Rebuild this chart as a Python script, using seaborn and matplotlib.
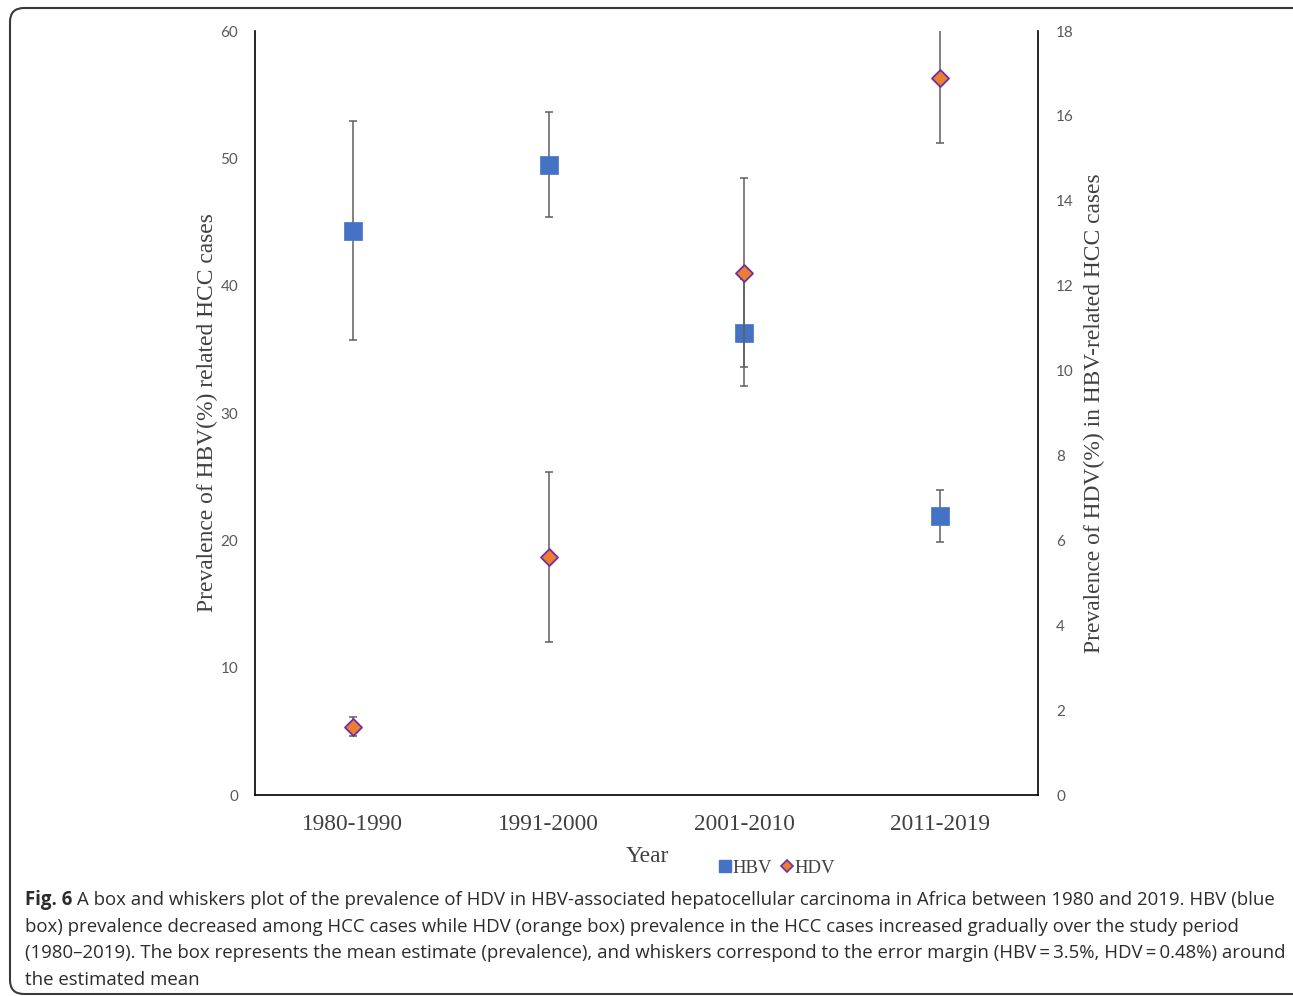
import matplotlib
matplotlib.use('Agg')
import matplotlib.pyplot as plt
import seaborn as sns
import pandas as pd
from matplotlib.patches import FancyBboxPatch
from matplotlib.lines import Line2D

# data
periods = ['1980-1990', '1991-2000', '2001-2010', '2011-2019']
hbv_mean = [44.3, 49.5, 36.3, 21.9]
hbv_err = [8.6, 4.1, 4.2, 2.05]
hdv_mean = [1.61, 5.61, 12.31, 16.89]
hdv_err = [0.22, 2.0, 2.22, 1.53]

blue = '#4472C4'
orange = '#ED7D31'
purple = '#7030A0'
bar_grey = '#5f5f5f'
tick_grey = '#595959'

sns.set_style('white')
plt.rcParams['font.family'] = ['DejaVu Sans']

df = pd.DataFrame({'Period': periods, 'HBV': hbv_mean, 'HDV': hdv_mean})

fig = plt.figure(figsize=(12.93, 9.96), dpi=100)
ax = fig.add_axes([255 / 1293, 1 - 795 / 996, 783 / 1293, 764 / 996])
ax2 = ax.twinx()

# HBV on left axis
ax.errorbar(range(len(periods)), hbv_mean, yerr=hbv_err, fmt='none',
            ecolor=bar_grey, elinewidth=1.1, capsize=3.2, capthick=1.1, zorder=2)
sns.scatterplot(data=df, x='Period', y='HBV', marker='s', s=150, color=blue,
                edgecolor=blue, linewidth=0.5, ax=ax, zorder=3)

# HDV on right axis
ax2.errorbar(range(len(periods)), hdv_mean, yerr=hdv_err, fmt='none',
             ecolor=bar_grey, elinewidth=1.1, capsize=3.2, capthick=1.1, zorder=2)
sns.scatterplot(data=df, x='Period', y='HDV', marker='D', s=75, color=orange,
                edgecolor=purple, linewidth=1.3, ax=ax2, zorder=3)

ax.set_xlim(-0.5, 3.5)
ax.set_ylim(0, 60)
ax2.set_ylim(0, 18)
ax.set_yticks(range(0, 61, 10))
ax2.set_yticks(range(0, 19, 2))

for a in (ax, ax2):
    for s in a.spines.values():
        s.set_visible(False)
    a.tick_params(length=0)
    a.grid(False)
ax.spines['left'].set_visible(True)
ax.spines['bottom'].set_visible(True)
ax2.spines['right'].set_visible(True)
for s in (ax.spines['left'], ax.spines['bottom'], ax2.spines['right']):
    s.set_color('black')
    s.set_linewidth(1.2)

ax.tick_params(axis='y', labelsize=11, labelcolor=tick_grey, pad=12)
ax2.tick_params(axis='y', labelsize=11, labelcolor=tick_grey, pad=13)
ax.tick_params(axis='x', pad=14)
ax.set_xticks(range(len(periods)))
ax.set_xticklabels(periods, family='Liberation Serif', fontsize=16.8, color='#404040')
for lab in ax.get_yticklabels() + ax2.get_yticklabels():
    lab.set_family('Lato')

serif = dict(family='Liberation Serif', fontsize=16.9, color='#404040')
ax.set_xlabel('')
ax.set_ylabel('')
ax2.set_ylabel('')
fig.text(207 / 1293, 1 - 413 / 996, 'Prevalence of HBV(%) related HCC cases',
         rotation=90, ha='center', va='center', **serif)
fig.text(1094 / 1293, 1 - 413 / 996, 'Prevalence of HDV(%) in HBV-related HCC cases',
         rotation=90, ha='center', va='center', **serif)
fig.text(647 / 1293, 1 - 856 / 996, 'Year', ha='center', va='center', **serif)

handles = [Line2D([], [], marker='s', linestyle='none', markersize=9,
                  markerfacecolor=blue, markeredgecolor=blue),
           Line2D([], [], marker='D', linestyle='none', markersize=6,
                  markerfacecolor=orange, markeredgecolor=purple, markeredgewidth=1.2)]
fig.legend(handles, ['HBV', 'HDV'], loc='center', bbox_to_anchor=(777 / 1293, 1 - 868 / 996),
           ncol=2, frameon=False, handlelength=0.6, handletextpad=0.1, columnspacing=0.5,
           prop={'family': 'Liberation Serif', 'size': 13.5}, labelcolor='#404040')

# caption
cap_font = dict(family='Open Sans', fontsize=13.4, color='#2b2b2b')
lines = ['A box and whiskers plot of the prevalence of HDV in HBV-associated hepatocellular carcinoma in Africa between 1980 and 2019. HBV (blue',
         'box) prevalence decreased among HCC cases while HDV (orange box) prevalence in the HCC cases increased gradually over the study period',
         '(1980\u20132019). The box represents the mean estimate (prevalence), and whiskers correspond to the error margin (HBV\u2009=\u20093.5%, HDV\u2009=\u20090.48%) around',
         'the estimated mean']
base = [905, 932, 958, 985]
t0 = fig.text(25 / 1293, 1 - base[0] / 996, 'Fig. 6', fontweight='bold', va='baseline', **cap_font)
r = fig.canvas.get_renderer()
bb = t0.get_window_extent(r)
fig.text((bb.x1 + 5) / 1293, 1 - base[0] / 996, lines[0], va='baseline', **cap_font)
for ln, yb in zip(lines[1:], base[1:]):
    fig.text(25 / 1293, 1 - yb / 996, ln, va='baseline', **cap_font)

border = FancyBboxPatch((10, 2), 1300, 986, boxstyle='round,pad=0,rounding_size=14',
                        transform=None, facecolor='none', edgecolor='#3a3a3a', linewidth=1.5)
fig.patches.append(border)

fig.savefig('out.png', dpi=100)
